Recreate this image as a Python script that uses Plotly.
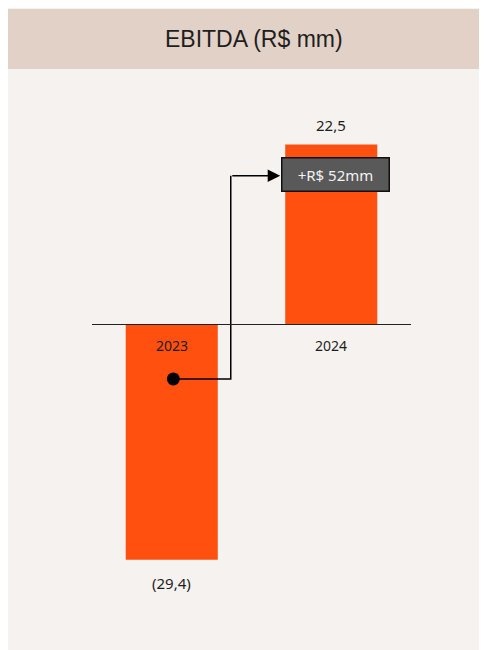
import plotly.graph_objects as go

# ---- data ----
categories = ["2023", "2024"]
values = [-29.4, 22.5]
value_labels = ["(29,4)", "22,5"]
delta_label = "+R$ 52mm"
title_text = "EBITDA (R$ mm)"

# ---- layout geometry (pixels, figure coordinates) ----
W, H = 487, 650
ML, MR, MT, MB = 84, 83.5, 72, 10
PW, PH = W - ML - MR, H - MT - MB
Y0_PX = 316.5
PX_PER_UNIT = 8.0
y_top = (Y0_PX - MT) / PX_PER_UNIT
y_bot = -(H - MB - Y0_PX) / PX_PER_UNIT


def px_x(px):
    return (px - ML) / PW


def px_y(py):
    return (H - MB - py) / PH


BAR_COLOR = "#FF500F"
PANEL = "#F6F2EF"
BAND = "#E2D1C6"
TXT = "#1E1E1E"
FONT = "Noto Sans"

fig = go.Figure()
fig.add_trace(go.Bar(
    x=[0, 1], y=values, width=0.577,
    marker=dict(color=BAR_COLOR, line=dict(width=0)),
    hoverinfo="skip",
))

# connector line (dot -> up -> arrow)
dot_x, dot_y = 0.01, -6.8
mid_x = 0.370
arr_y = 18.6
arr_tip_x = 0.680
fig.add_trace(go.Scatter(
    x=[dot_x, mid_x, mid_x], y=[dot_y, dot_y, arr_y],
    mode="lines", line=dict(color="black", width=1.5), hoverinfo="skip",
))
fig.add_trace(go.Scatter(
    x=[dot_x], y=[dot_y], mode="markers",
    marker=dict(color="black", size=13), hoverinfo="skip",
))

shapes = [
    dict(type="rect", xref="paper", yref="paper", x0=px_x(-2), x1=px_x(W + 2), y0=px_y(1), y1=px_y(61),
         fillcolor=BAND, line=dict(width=0), layer="below"),
    dict(type="line", xref="paper", yref="y", x0=0, x1=1, y0=0, y1=0,
         line=dict(color="#222222", width=1.2), layer="above"),
]

annotations = [
    dict(text=title_text, xref="paper", yref="paper", x=px_x(246.7), y=px_y(31),
         showarrow=False, font=dict(family="Liberation Sans", size=23, color=TXT),
         xanchor="center", yanchor="middle"),
    dict(x=arr_tip_x, y=arr_y, ax=mid_x, ay=arr_y, axref="x", ayref="y", xref="x", yref="y",
         text="", showarrow=True, arrowhead=2, arrowsize=1.67, arrowwidth=1.5, arrowcolor="black",
         standoff=0, startstandoff=0),
    dict(text=delta_label, x=1.028, y=18.69, xref="x", yref="y", showarrow=False,
         font=dict(family=FONT, size=15, color="#F2F2F2"),
         bgcolor="#595959", bordercolor="#111111", borderwidth=1.5, borderpad=2,
         width=102, height=28, xanchor="center", yanchor="middle"),
]

for i, (cat, v, lab) in enumerate(zip(categories, values, value_labels)):
    annotations.append(dict(text=cat, x=i, y=0, xref="x", yref="y", showarrow=False,
                            yshift=-21, font=dict(family=FONT, size=14, color=TXT),
                            xanchor="center", yanchor="middle"))
    shift = 20 if v > 0 else -23
    annotations.append(dict(text=lab, x=i, y=v, xref="x", yref="y", showarrow=False,
                            yshift=shift, font=dict(family=FONT, size=15, color=TXT),
                            xanchor="center", yanchor="middle"))

fig.update_layout(
    width=W, height=H,
    margin=dict(l=ML, r=MR, t=MT, b=MB, pad=0),
    paper_bgcolor=PANEL, plot_bgcolor="rgba(0,0,0,0)",
    showlegend=False,
    xaxis=dict(range=[-0.5, 1.5], visible=False, fixedrange=True),
    yaxis=dict(range=[y_bot, y_top], visible=False, fixedrange=True),
    shapes=shapes, annotations=annotations,
)

fig.write_html("out.html", config={"displayModeBar": False})
